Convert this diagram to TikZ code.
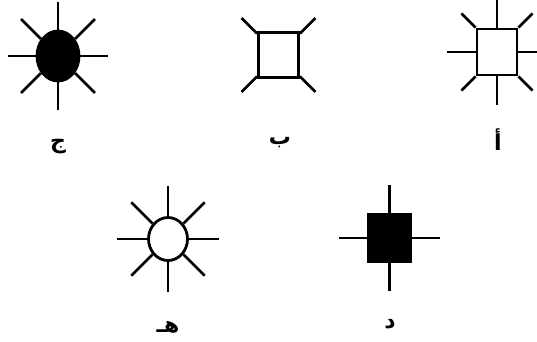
\documentclass[tikz,border=0pt]{standalone}
\usepackage{fontspec}
\usepackage{tikz}
\usetikzlibrary{shapes.geometric}
\newfontfamily\arabicfont[Script=Arabic]{DejaVu Sans Bold}
\TeXXeTstate=1

\begin{document}
\begin{tikzpicture}[x=1pt, y=1pt,
        ray/.style={line width=2.6pt},
        blob/.style={ellipse, draw, line width=2.8pt, inner sep=0pt},
        box/.style={rectangle, draw, line width=2.8pt, inner sep=0pt},
        letter/.style={inner sep=0pt, font=\arabicfont\fontsize{22}{24}\selectfont}]

        % Fix the page size
        \useasboundingbox (0,0) rectangle (537,-341);

        % Top left: filled disc with eight rays
        \node[blob, fill=black, minimum width=42pt, minimum height=50pt] (jim) at (58,-56) {};
        \foreach \a in {0,45,...,315} {
                \draw[ray] (jim.\a) -- ++(\a:28);
            }
        \node[letter] (jimlabel) at (58,-147) {\beginR ج\endR};

        % Top middle: square with corner rays
        \node[box, minimum width=40pt, minimum height=45pt] (ba) at (278.5,-55) {};
        \foreach \a in {45,135,225,315} {
                \draw[ray] (ba.\a) -- ++(\a:22);
            }
        \node[letter] (balabel) at (280,-143) {\beginR ب\endR};

        % Top right: square with side and corner rays
        \node[box, minimum width=40pt, minimum height=46pt] (alif) at (497,-52) {};
        \foreach \a in {0,90,180,270} {
                \draw[ray] (alif.\a) -- ++(\a:29);
            }
        \foreach \c/\a in {north east/45, north west/135, south west/225, south east/315} {
                \draw[ray] (alif.\c) -- ++(\a:20);
            }
        \node[letter] (aliflabel) at (498,-140) {\beginR أ\endR};

        % Bottom left: open circle with eight rays
        \node[blob, fill=white, minimum width=39pt, minimum height=43pt] (ha) at (168,-239) {};
        \foreach \a in {0,45,...,315} {
                \draw[ray] (ha.\a) -- ++(\a:30);
            }
        \node[letter] (halabel) at (168,-327) {\beginR هـ\endR};

        % Bottom right: filled square with side rays
        \node[box, fill=black, minimum width=42pt, minimum height=47pt] (dal) at (389.5,-238) {};
        \foreach \a in {0,90,180,270} {
                \draw[ray] (dal.\a) -- ++(\a:28);
            }
        \node[letter] (dallabel) at (390,-324) {\beginR د\endR};

    \end{tikzpicture}
\end{document}
